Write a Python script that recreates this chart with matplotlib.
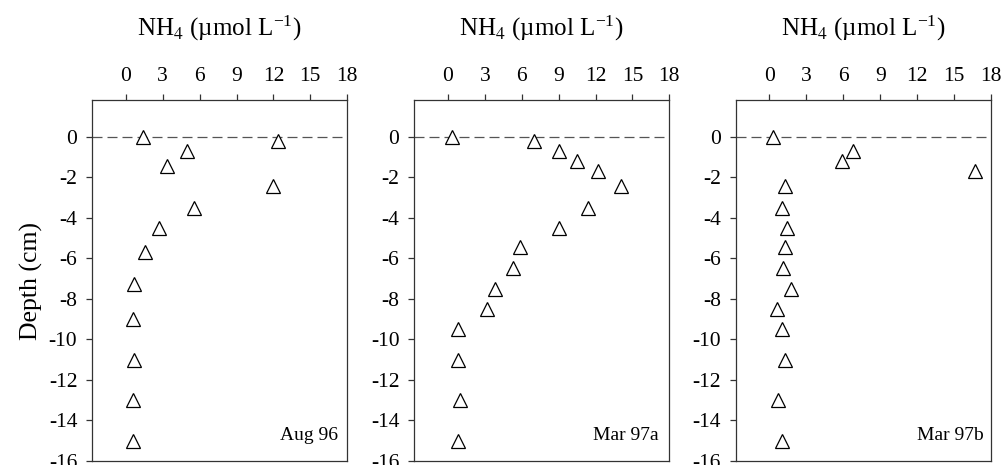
import matplotlib
matplotlib.use('Agg')
import matplotlib.pyplot as plt

plt.rcParams['font.family'] = ['Liberation Serif', 'DejaVu Serif']
plt.rcParams['mathtext.fontset'] = 'stix'
plt.rcParams['axes.unicode_minus'] = False

# NH4 profiles (umol/L) vs depth (cm)
aug96_nh4 = [1.4, 12.4, 5.0, 3.35, 12.0, 5.55, 2.7, 1.6, 0.7, 0.55, 0.7, 0.6, 0.6]
aug96_depth = [0.0, -0.2, -0.7, -1.45, -2.45, -3.5, -4.5, -5.7, -7.25, -9.0, -11.0, -13.0, -15.0]

mar97a_nh4 = [0.35, 7.0, 9.0, 10.5, 12.2, 14.05, 11.4, 9.0, 5.85, 5.3, 3.8, 3.15, 0.8, 0.8, 0.95, 0.85]
mar97a_depth = [0.0, -0.2, -0.7, -1.2, -1.7, -2.45, -3.5, -4.5, -5.45, -6.5, -7.5, -8.5, -9.5, -11.0, -13.0, -15.0]

mar97b_nh4 = [0.3, 6.75, 5.9, 16.7, 1.25, 1.0, 1.4, 1.25, 1.1, 1.75, 0.6, 1.0, 1.25, 0.7, 1.0]
mar97b_depth = [0.0, -0.7, -1.2, -1.7, -2.45, -3.5, -4.5, -5.45, -6.5, -7.5, -8.5, -9.5, -11.0, -13.0, -15.0]

panels = [
    (aug96_nh4, aug96_depth, 'Aug 96'),
    (mar97a_nh4, mar97a_depth, 'Mar 97a'),
    (mar97b_nh4, mar97b_depth, 'Mar 97b'),
]
x_ticks = [0, 3, 6, 9, 12, 15, 18]
y_ticks = [0, -2, -4, -6, -8, -10, -12, -14, -16]

fig = plt.figure(figsize=(10.05, 4.65), dpi=100)

lefts = [0.0915, 0.412, 0.732]
label_x = [0.965, 0.957, 0.973]
bottom, height, width = 0.0086, 0.776, 0.254

for i, (nh4, depth, name) in enumerate(panels):
    ax = fig.add_axes([lefts[i], bottom, width, height])
    ax.axhline(0, color='#555555', lw=0.9, ls=(0, (8, 4)), zorder=1)
    ax.plot(nh4, depth, ls='none', marker='^', ms=9.5, mfc='white',
            mec='black', mew=0.9, zorder=3)
    ax.set_xlim(-2.75, 18)
    ax.set_ylim(-16, 1.8)
    ax.set_xticks(x_ticks)
    ax.set_yticks(y_ticks)
    ax.xaxis.tick_top()
    ax.tick_params(axis='both', direction='out', length=4.5, width=0.9,
                   labelsize=15.5, color='#333333')
    ax.tick_params(axis='x', pad=6)
    ax.tick_params(axis='y', pad=6)
    for sp in ax.spines.values():
        sp.set_linewidth(0.9)
        sp.set_color('#333333')
    ax.text(0.5, 1.2, 'NH$_4$ (µmol L$^{\\mathregular{-1}}$)', transform=ax.transAxes,
            ha='center', va='center', fontsize=18)
    ax.text(label_x[i], 0.072, name, transform=ax.transAxes,
            ha='right', va='center', fontsize=14)
    if i == 0:
        ax.set_ylabel('Depth (cm)', fontsize=18.5, labelpad=4)

fig.savefig('out.png', dpi=100)
